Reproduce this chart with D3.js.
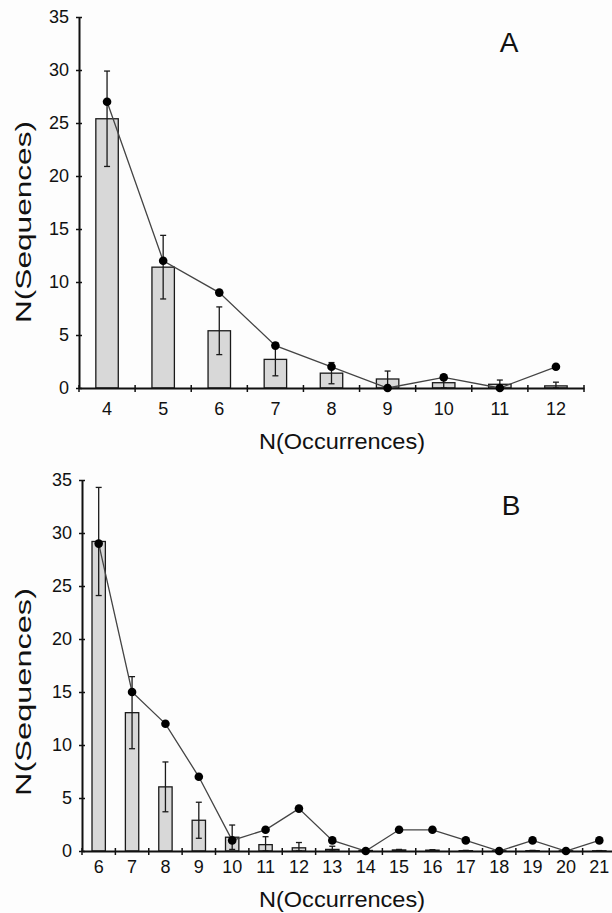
<!DOCTYPE html>
<html>
<head>
<meta charset="utf-8">
<script src="https://cdn.jsdelivr.net/npm/d3@7"></script>
<style>
  body { margin: 0; background: #fdfdfd; }
  svg { display: block; font-family: "Liberation Sans", Arial, sans-serif; }
</style>
</head>
<body>
<svg id="chart" width="612" height="913"></svg>
<script>
// panel A data
const occA = [4, 5, 6, 7, 8, 9, 10, 11, 12];
const meanA = [25.4, 11.4, 5.4, 2.7, 1.4, 0.85, 0.5, 0.35, 0.2];
const errA = [4.5, 3.0, 2.25, 1.55, 1.0, 0.75, 0.5, 0.4, 0.35];
const obsA = [27, 12, 9, 4, 2, 0, 1, 0, 2];

// panel B data
const occB = [6, 7, 8, 9, 10, 11, 12, 13, 14, 15, 16, 17, 18, 19, 20, 21];
const meanB = [29.2, 13.05, 6.05, 2.9, 1.3, 0.6, 0.3, 0.15, 0.05, 0.1, 0.08, 0.03, 0.02, 0.03, 0.02, 0.02];
const errB = [5.1, 3.4, 2.35, 1.7, 1.15, 0.75, 0.5, 0.3, 0.05, 0.05, 0.05, 0.03, 0.02, 0.03, 0.02, 0.02];
const obsB = [29, 15, 12, 7, 1, 2, 4, 1, 0, 2, 2, 1, 0, 1, 0, 1];

const yTicks = [0, 5, 10, 15, 20, 25, 30, 35];

const svg = d3.select('#chart');

const panelA = {
  letter: 'A', occ: occA, mean: meanA, err: errA, obs: obsA,
  x0: 79, x1: 584, yTop: 17, yBot: 388,
  labelY: 27, titleY: 449, yTitleC: 222, yTitleLen: 202, letterX: 509, letterY: 52
};
const panelB = {
  letter: 'B', occ: occB, mean: meanB, err: errB, obs: obsB,
  x0: 82, x1: 616, yTop: 480, yBot: 851,
  labelY: 22, titleY: 907, yTitleC: 692, yTitleLen: 208, letterX: 511, letterY: 515
};

function drawPanel(p) {
  const g = svg.append('g').attr('class', 'panel-' + p.letter);

  const x = d3.scaleBand().domain(p.occ).range([p.x0, p.x1]).paddingInner(0.6).paddingOuter(0.3);
  const xb = d3.scaleBand().domain(p.occ).range([p.x0, p.x1]);
  const y = d3.scaleLinear().domain([0, 35]).range([p.yBot, p.yTop]);

  const rows = p.occ.map((k, i) => ({ k: k, m: p.mean[i], e: p.err[i], o: p.obs[i] }));

  // bars
  g.append('g').selectAll('rect')
    .data(rows)
    .join('rect')
      .attr('x', d => x(d.k))
      .attr('width', x.bandwidth())
      .attr('y', d => y(d.m))
      .attr('height', d => y(0) - y(d.m))
      .attr('fill', '#d8d8d8')
      .attr('stroke', '#1a1a1a')
      .attr('stroke-width', 1.3);

  // error bars
  const cx = d => xb(d.k) + xb.bandwidth() / 2;
  const eg = g.append('g').attr('stroke', '#1a1a1a').attr('stroke-width', 1.3);
  eg.selectAll('line.v')
    .data(rows)
    .join('line').attr('class', 'v')
      .attr('x1', cx).attr('x2', cx)
      .attr('y1', d => y(Math.max(0, d.m - d.e)))
      .attr('y2', d => y(d.m + d.e));
  eg.selectAll('line.top')
    .data(rows)
    .join('line').attr('class', 'top')
      .attr('x1', d => cx(d) - 3).attr('x2', d => cx(d) + 3)
      .attr('y1', d => y(d.m + d.e)).attr('y2', d => y(d.m + d.e));
  eg.selectAll('line.bot')
    .data(rows)
    .join('line').attr('class', 'bot')
      .attr('x1', d => cx(d) - 3).attr('x2', d => cx(d) + 3)
      .attr('y1', d => y(Math.max(0, d.m - d.e))).attr('y2', d => y(Math.max(0, d.m - d.e)));

  // y axis
  const ya = g.append('g')
    .attr('transform', `translate(${p.x0} 0)`)
    .call(d3.axisLeft(y).tickValues(yTicks).tickSize(0).tickPadding(10));
  ya.select('.domain').attr('stroke', '#111').attr('stroke-width', 2);
  ya.selectAll('.tick line').attr('x1', -3).attr('x2', 3).attr('stroke', '#111').attr('stroke-width', 1.5);
  ya.selectAll('.tick text').attr('font-size', 18).attr('fill', '#111').attr('font-family', null);

  // x axis: labels at centres
  const xa = g.append('g')
    .attr('transform', `translate(0 ${p.yBot})`)
    .call(d3.axisBottom(xb).tickSize(0).tickPadding(0));
  xa.select('.domain').attr('stroke', '#111').attr('stroke-width', 2);
  xa.selectAll('.tick text')
    .attr('dy', null).attr('y', p.labelY)
    .attr('font-size', 18).attr('fill', '#111').attr('font-family', null);

  // x axis: crossing ticks at band edges
  const edges = p.occ.map(k => xb(k)).concat([p.x1]);
  g.append('g').selectAll('line')
    .data(edges)
    .join('line')
      .attr('x1', d => d).attr('x2', d => d)
      .attr('y1', p.yBot - 3).attr('y2', p.yBot + 4)
      .attr('stroke', '#111').attr('stroke-width', 1.5);

  // observed line + dots
  const line = d3.line().x(cx).y(d => y(d.o));
  g.append('path')
    .datum(rows)
    .attr('d', line)
    .attr('fill', 'none')
    .attr('stroke', '#444')
    .attr('stroke-width', 1.3);
  g.append('g').selectAll('circle')
    .data(rows)
    .join('circle')
      .attr('cx', cx)
      .attr('cy', d => y(d.o))
      .attr('r', 4.3)
      .attr('fill', '#000');

  // titles
  g.append('text')
    .attr('x', 342)
    .attr('y', p.titleY)
    .attr('text-anchor', 'middle')
    .attr('font-size', 22)
    .attr('fill', '#111')
    .attr('textLength', 166)
    .attr('lengthAdjust', 'spacingAndGlyphs')
    .text('N(Occurrences)');

  g.append('text')
    .attr('transform', `translate(31 ${p.yTitleC}) rotate(-90)`)
    .attr('text-anchor', 'middle')
    .attr('font-size', 22)
    .attr('fill', '#111')
    .attr('textLength', p.yTitleLen)
    .attr('lengthAdjust', 'spacingAndGlyphs')
    .text('N(Sequences)');

  g.append('text')
    .attr('x', p.letterX)
    .attr('y', p.letterY)
    .attr('text-anchor', 'middle')
    .attr('font-size', 28)
    .attr('fill', '#111')
    .text(p.letter);
}

drawPanel(panelA);
drawPanel(panelB);
</script>
</body>
</html>
